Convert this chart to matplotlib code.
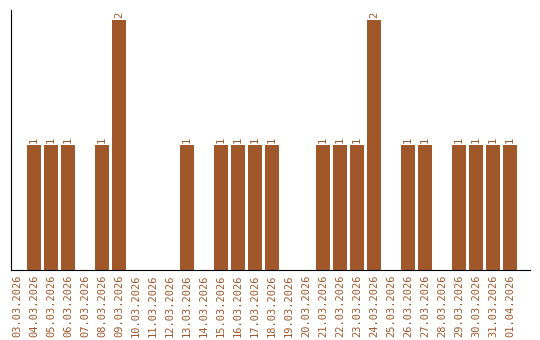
import matplotlib
matplotlib.use("Agg")
import matplotlib.pyplot as plt

dates = ["03.03.2026", "04.03.2026", "05.03.2026", "06.03.2026", "07.03.2026",
         "08.03.2026", "09.03.2026", "10.03.2026", "11.03.2026", "12.03.2026",
         "13.03.2026", "14.03.2026", "15.03.2026", "16.03.2026", "17.03.2026",
         "18.03.2026", "19.03.2026", "20.03.2026", "21.03.2026", "22.03.2026",
         "23.03.2026", "24.03.2026", "25.03.2026", "26.03.2026", "27.03.2026",
         "28.03.2026", "29.03.2026", "30.03.2026", "31.03.2026", "01.04.2026"]
values = [0, 1, 1, 1, 0, 1, 2, 0, 0, 0, 1, 0, 1, 1, 1, 1, 0, 0, 1, 1, 1, 2,
          0, 1, 1, 0, 1, 1, 1, 1]

color = "#A0582A"
fig = plt.figure(figsize=(5.4, 3.4), dpi=100)
ax = fig.add_axes([11/540, 70/340, 519/540, 260/340])
x = list(range(len(dates)))
ax.bar(x, values, width=0.82, color=color)
for xi, v in zip(x, values):
    if v > 0:
        ax.text(xi, v + 0.02, str(v), rotation=90, ha="center", va="bottom",
                fontsize=7.5, family="DejaVu Sans Mono", color=color)
ax.set_xlim(-0.353, 30.18)
ax.set_ylim(0, 2.08)
ax.set_xticks(x)
ax.set_xticklabels(dates, rotation=90, fontsize=7.5, family="DejaVu Sans Mono", color=color)
ax.tick_params(axis="x", length=0, pad=3)
ax.set_yticks([])
ax.spines["top"].set_visible(False)
ax.spines["right"].set_visible(False)
ax.spines["left"].set_color("black")
ax.spines["bottom"].set_color("black")
fig.savefig("out.png", dpi=100)
